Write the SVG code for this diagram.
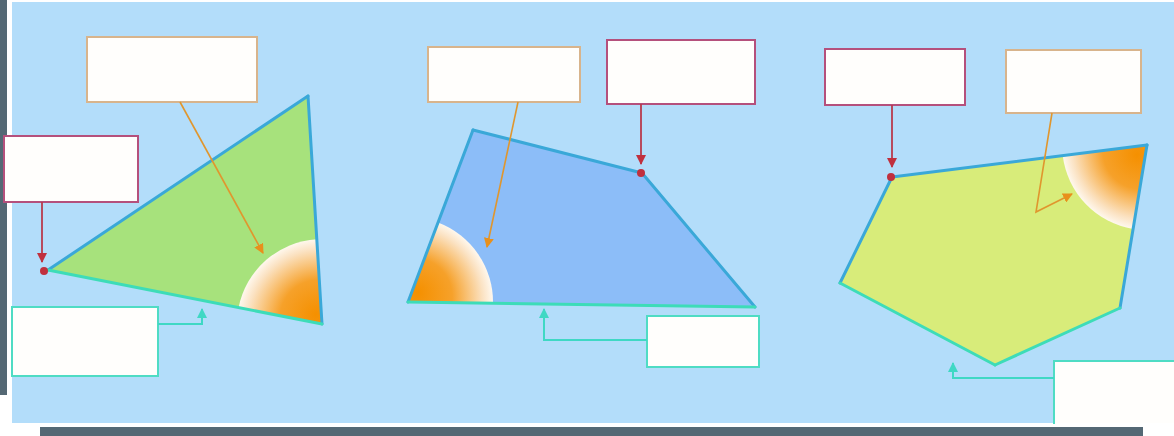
<svg xmlns="http://www.w3.org/2000/svg" width="1174" height="436" viewBox="0 0 1174 436">
<style>
.box{fill:#fffefc;stroke-width:2}
.tan{stroke:#d8b48c}
.red{stroke:#b5507c}
.teal{stroke:#4fdcc4}
.edgeB{stroke:#3aa8d8;stroke-width:3;stroke-linecap:round}
.edgeT{stroke:#3ddcb8;stroke-width:3;stroke-linecap:round}
.cOr{stroke:#e0962e;stroke-width:1.6;fill:none}
.cRd{stroke:#b83a4c;stroke-width:1.8;fill:none}
.cTl{stroke:#3fd8c4;stroke-width:2;fill:none}
</style>
<defs>
<marker id="mOr" viewBox="0 0 10 10" refX="9" refY="5" markerWidth="5" markerHeight="5" orient="auto" markerUnits="userSpaceOnUse" style="overflow:visible">
<path d="M0,0 L10,5 L0,10 Z" fill="#e8901c" transform="scale(1)"/>
</marker>
<marker id="mRd" viewBox="0 0 10 10" refX="9" refY="5" markerWidth="10" markerHeight="10" orient="auto" markerUnits="userSpaceOnUse">
<path d="M0,0 L10,5 L0,10 Z" fill="#c0303e"/>
</marker>
<marker id="mTl" viewBox="0 0 10 10" refX="9" refY="5" markerWidth="10" markerHeight="10" orient="auto" markerUnits="userSpaceOnUse">
<path d="M0,0 L10,5 L0,10 Z" fill="#3fd8c4"/>
</marker>
<marker id="mOr2" viewBox="0 0 10 10" refX="9" refY="5" markerWidth="10" markerHeight="10" orient="auto" markerUnits="userSpaceOnUse">
<path d="M0,0 L10,5 L0,10 Z" fill="#e8901c"/>
</marker>
<radialGradient id="g1" gradientUnits="userSpaceOnUse" cx="322" cy="324" r="86" fx="316" fy="314">
<stop offset="0" stop-color="#f59000"/><stop offset="0.45" stop-color="#f6a12a"/><stop offset="0.85" stop-color="#fbe2c2"/><stop offset="1" stop-color="#fffaf2"/>
</radialGradient>
<radialGradient id="g2" gradientUnits="userSpaceOnUse" cx="408" cy="302" r="86" fx="418" fy="292">
<stop offset="0" stop-color="#f59000"/><stop offset="0.45" stop-color="#f6a12a"/><stop offset="0.85" stop-color="#fbe2c2"/><stop offset="1" stop-color="#fffaf2"/>
</radialGradient>
<radialGradient id="g3" gradientUnits="userSpaceOnUse" cx="1147" cy="145" r="86" fx="1137" fy="155">
<stop offset="0" stop-color="#f59000"/><stop offset="0.45" stop-color="#f6a12a"/><stop offset="0.85" stop-color="#fbe2c2"/><stop offset="1" stop-color="#fffaf2"/>
</radialGradient>
</defs>
<rect width="1174" height="436" fill="#ffffff"/>
<rect x="12" y="2" width="1162" height="421" fill="#b3ddfa"/>
<rect x="0" y="0" width="7" height="395" fill="#546874"/>
<rect x="40" y="427" width="1103" height="9" fill="#546874"/>

<g id="triangle">
<polygon points="48,270 308,96 322,324" fill="#a7e27c"/>
<path d="M322,324 L238.6,307.6 A85,85 0 0 1 316.8,239.2 Z" fill="url(#g1)"/>
<line class="edgeB" x1="48" y1="270" x2="308" y2="96"/>
<line class="edgeB" x1="308" y1="96" x2="322" y2="324"/>
<line class="edgeT" x1="322" y1="324" x2="48" y2="270"/>
</g>
<g id="quadrilateral">
<polygon points="473,130 642,173 755,307 408,302" fill="#8cbdf8"/>
<path d="M408,302 L493,303.2 A85,85 0 0 0 438,222.5 Z" fill="url(#g2)"/>
<line class="edgeB" x1="408" y1="302" x2="473" y2="130"/>
<line class="edgeB" x1="473" y1="130" x2="642" y2="173"/>
<line class="edgeB" x1="642" y1="173" x2="755" y2="307"/>
<line class="edgeT" x1="755" y1="307" x2="408" y2="302"/>
</g>
<g id="pentagon">
<polygon points="892,177 1147,145 1120,308 995,365 840,283" fill="#d8ec7a"/>
<path d="M1147,145 L1062.7,155.6 A85,85 0 0 0 1133.1,228.9 Z" fill="url(#g3)"/>
<line class="edgeB" x1="840" y1="283" x2="892" y2="177"/>
<line class="edgeB" x1="892" y1="177" x2="1147" y2="145"/>
<line class="edgeB" x1="1147" y1="145" x2="1120" y2="308"/>
<line class="edgeT" x1="1120" y1="308" x2="995" y2="365"/>
<line class="edgeT" x1="995" y1="365" x2="840" y2="283"/>
</g>

<g id="box1"><rect class="box tan" x="87" y="37" width="170" height="65"/></g>
<g id="box2"><rect class="box red" x="4" y="136" width="134" height="66"/></g>
<g id="box3"><rect class="box teal" x="12" y="307" width="146" height="69"/></g>
<g id="box4"><rect class="box tan" x="428" y="47" width="152" height="55"/></g>
<g id="box5"><rect class="box red" x="607" y="40" width="148" height="64"/></g>
<g id="box6"><rect class="box teal" x="647" y="316" width="112" height="51"/></g>
<g id="box7"><rect class="box red" x="825" y="49" width="140" height="56"/></g>
<g id="box8"><rect class="box tan" x="1006" y="50" width="135" height="63"/></g>
<g id="box9"><path d="M1175,361 L1054,361 L1054,424" fill="#fffefc" stroke="#4fdcc4" stroke-width="2"/><rect x="1055" y="362" width="119" height="61" fill="#fffefc"/></g>

<g id="connectors">
<line class="cOr" x1="180" y1="102" x2="263" y2="253" marker-end="url(#mOr2)"/>
<line class="cRd" x1="42" y1="202" x2="42" y2="262" marker-end="url(#mRd)"/>
<circle cx="44" cy="271" r="4" fill="#c0303e"/>
<polyline class="cTl" points="158,324 202,324 202,309" marker-end="url(#mTl)"/>

<line class="cOr" x1="518" y1="102" x2="487" y2="247" marker-end="url(#mOr2)"/>
<line class="cRd" x1="641" y1="104" x2="641" y2="164" marker-end="url(#mRd)"/>
<circle cx="641" cy="173" r="4" fill="#c0303e"/>
<polyline class="cTl" points="647,340 544,340 544,309" marker-end="url(#mTl)"/>

<line class="cRd" x1="892" y1="105" x2="892" y2="167" marker-end="url(#mRd)"/>
<circle cx="891" cy="177" r="4" fill="#c0303e"/>
<polyline class="cOr" points="1052,113 1036,212 1072,194" marker-end="url(#mOr2)"/>
<polyline class="cTl" points="1054,378 953,378 953,363" marker-end="url(#mTl)"/>
</g>
</svg>
